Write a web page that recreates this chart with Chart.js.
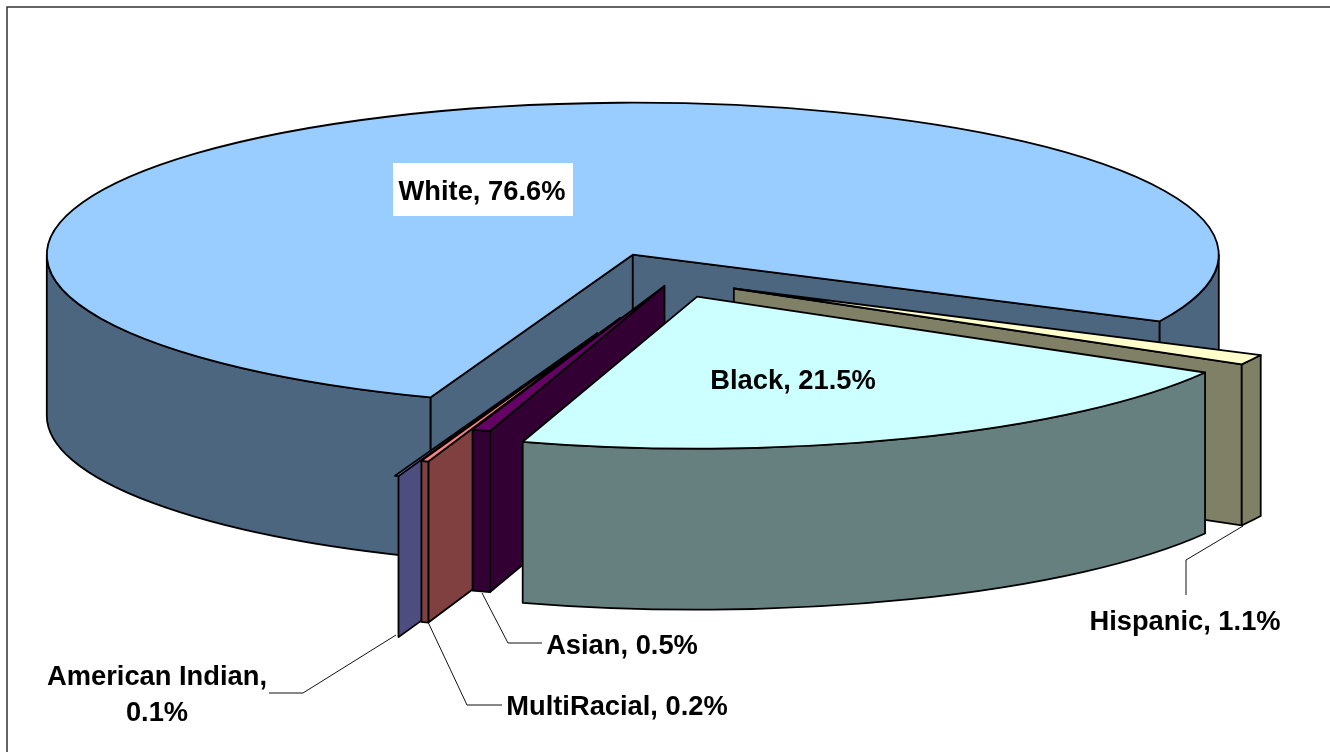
<!DOCTYPE html>
<html>
<head>
<meta charset="utf-8">
<title>Race breakdown</title>
<script src="https://cdn.jsdelivr.net/npm/chart.js@4/dist/chart.umd.min.js"></script>
<style>
    html, body { margin: 0; padding: 0; background: #fff; overflow: hidden; }
    canvas { position: absolute; left: 0; top: 0; }
</style>
</head>
<body>
<canvas id="raceChart" width="1330" height="752"></canvas>
<script>
// Chart data
const categories = ['White', 'Hispanic', 'Black', 'Asian', 'MultiRacial', 'American Indian'];
const shares = [76.6, 1.1, 21.5, 0.5, 0.2, 0.1];

// Slice styling, same order as categories
const topColors = ['#99CCFF', '#FFFFCC', '#CCFFFF', '#660066', '#FF8080', '#9999FF'];
const wallColors = ['#4D6680', '#808066', '#668080', '#330033', '#804040', '#4D4D80'];
const explode = [105, 70, 69, 24, 155, 218];
const paintOrder = [0, 1, 5, 4, 3, 2];

// Fake 3D settings
const tilt = 0.2594;
const depth = 161;

// Label placement: centre of the text, then the leader line if there is one
const labelLines = [
    [[482, 192]],
    [[1185, 622]],
    [[793, 381]],
    [[622, 646]],
    [[617, 707]],
    [[157, 677], [157, 713]]
];
const leaders = [
    null,
    [[1243, 526], [1186, 560], [1186, 595]],
    null,
    [[482, 593], [508, 643], [542, 643]],
    [[428, 622], [467, 705], [502, 705]],
    [[396, 635], [303, 693], [269, 693]]
];
const whiteLabelBox = [393, 163, 180, 53];

function labelText(i) {
    const text = categories[i] + ', ' + shares[i].toFixed(1) + '%';
    // The long one wraps onto a second line
    return labelLines[i].length > 1 ? text.split(' ').reduce((acc, w, n, all) =>
        n === all.length - 1 ? [acc.join(' '), w] : acc.concat(w), []) : [text];
}

function drawWall(ctx, path, color) {
    ctx.beginPath();
    path();
    ctx.closePath();
    ctx.fillStyle = color;
    ctx.fill();
    ctx.stroke();
}

function drawSlice(ctx, arc, i) {
    const r = arc.outerRadius;
    const a0 = arc.startAngle;
    const a1 = arc.endAngle;
    const mid = (a0 + a1) / 2;
    const px = arc.x + Math.cos(mid) * explode[i];
    const py = arc.y + Math.sin(mid) * explode[i] * tilt;

    const radialWall = (a) => drawWall(ctx, () => {
        const rx = px + Math.cos(a) * r;
        const ry = py + Math.sin(a) * r * tilt;
        ctx.moveTo(px, py);
        ctx.lineTo(rx, ry);
        ctx.lineTo(rx, ry + depth);
        ctx.lineTo(px, py + depth);
    }, wallColors[i]);

    ctx.strokeStyle = '#000';
    ctx.lineWidth = 1.8;
    ctx.lineJoin = 'round';

    // Radial cut faces, only the ones turned towards the viewer
    if (Math.cos(a0) < 0) radialWall(a0);
    if (Math.cos(a1) > 0) radialWall(a1);

    // Outer rim, only where it is on the front half of the ellipse
    for (let band = 0; band <= Math.PI * 2; band += Math.PI * 2) {
        const s = Math.max(a0, band);
        const e = Math.min(a1, band + Math.PI);
        if (e - s < 0.008) continue; // too thin to show as a face
        drawWall(ctx, () => {
            ctx.ellipse(px, py, r, r * tilt, 0, s, e);
            ctx.ellipse(px, py + depth, r, r * tilt, 0, e, s, true);
        }, wallColors[i]);
    }

    // Top face is the library's own arc, squashed onto the tilted plane
    ctx.save();
    ctx.translate(px, py);
    ctx.scale(1, tilt);
    ctx.translate(-arc.x, -arc.y);
    arc.draw(ctx);
    ctx.restore();

    ctx.beginPath();
    ctx.moveTo(px, py);
    ctx.ellipse(px, py, r, r * tilt, 0, a0, a1);
    ctx.closePath();
    ctx.stroke();
}

const pie3d = {
    id: 'pie3d',
    beforeDatasetDraw(chart, args) {
        const ctx = chart.ctx;
        const arcs = chart.getDatasetMeta(args.index).data;
        ctx.save();
        paintOrder.forEach(i => drawSlice(ctx, arcs[i], i));
        ctx.restore();
        return false; // slices are done, skip the flat pie
    },
    afterDatasetsDraw(chart) {
        const ctx = chart.ctx;
        ctx.save();

        // Outer frame, runs off the right and bottom of the picture
        ctx.strokeStyle = '#333';
        ctx.lineWidth = 1.5;
        ctx.strokeRect(7, 7, 1400, 800);

        // Leader lines
        ctx.strokeStyle = '#111';
        ctx.lineWidth = 1;
        leaders.forEach(line => {
            if (!line) return;
            ctx.beginPath();
            line.forEach((p, n) => n ? ctx.lineTo(p[0], p[1]) : ctx.moveTo(p[0], p[1]));
            ctx.stroke();
        });

        ctx.fillStyle = '#fff';
        ctx.fillRect(...whiteLabelBox);

        ctx.fillStyle = '#000';
        ctx.font = 'bold 27.3px "Liberation Sans", Arial, sans-serif';
        ctx.textAlign = 'center';
        ctx.textBaseline = 'middle';
        categories.forEach((c, i) => {
            labelText(i).forEach((t, n) => ctx.fillText(t, labelLines[i][n][0], labelLines[i][n][1]));
        });
        ctx.restore();
    }
};

new Chart(document.getElementById('raceChart'), {
    type: 'pie',
    data: {
        labels: categories,
        datasets: [{
            data: shares,
            backgroundColor: topColors,
            borderWidth: 0
        }]
    },
    options: {
        responsive: false,
        animation: false,
        events: [],
        rotation: 200.2,
        radius: 586,
        layout: { padding: { left: 14, right: 0, top: 0, bottom: 192 } },
        plugins: { legend: { display: false }, tooltip: { enabled: false } }
    },
    plugins: [pie3d]
});
</script>
</body>
</html>
